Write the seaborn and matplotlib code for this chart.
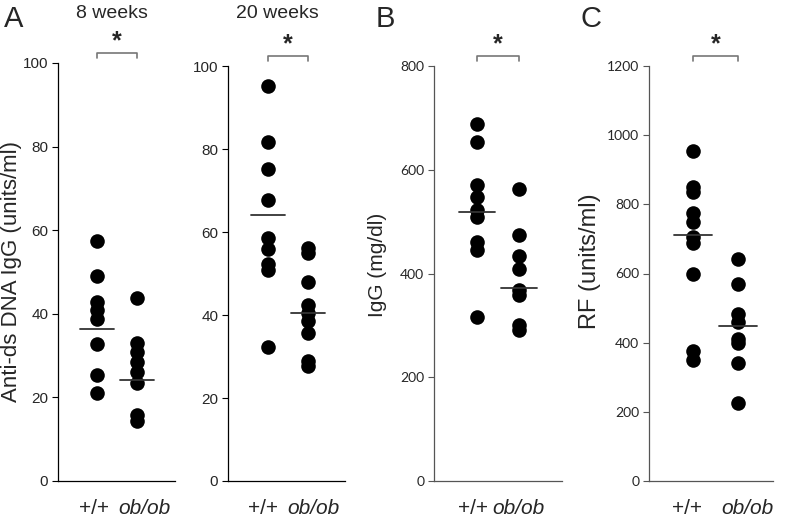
import matplotlib.pyplot as plt
import matplotlib.transforms as mtransforms
import seaborn as sns
import pandas as pd

genotypes = ['+/+', 'ob/ob']

# A: anti-dsDNA IgG (units/ml)
dna8_wt = [57.3, 49.0, 42.9, 40.9, 38.8, 32.8, 25.4, 21.0]
dna8_ob = [43.7, 33.1, 30.9, 28.5, 26.1, 23.4, 15.8, 14.4]
dna8_means = [36.3, 24.2]
dna20_wt = [95.2, 81.7, 75.1, 67.6, 58.6, 55.9, 52.4, 50.9, 32.4]
dna20_ob = [56.2, 55.0, 47.9, 42.5, 40.5, 38.5, 35.7, 28.8, 27.6]
dna20_means = [64.0, 40.6]

# B: IgG (mg/dl)
igg_wt = [688, 654, 571, 548, 522, 508, 461, 445, 317]
igg_ob = [562, 474, 434, 408, 368, 359, 301, 291]
igg_means = [518, 373]

# C: RF (units/ml)
rf_wt = [954, 849, 836, 775, 750, 706, 687, 600, 376, 350]
rf_ob = [643, 571, 484, 460, 412, 398, 340, 226]
rf_means = [711, 448]

sns.set_style('ticks')
plt.rcParams['font.family'] = ['Liberation Sans', 'DejaVu Sans']

fig = plt.figure(figsize=(7.85, 5.18), dpi=100)
W, H = 785, 518


def px_rect(left, right, top, bottom):
    return [left / W, 1 - bottom / H, (right - left) / W, (bottom - top) / H]


def draw_panel(ax, wt, ob, means, yticks, ylabel, label_size, tick_font, tick_size,
               spine_col, xlim, label_shift):
    df = pd.DataFrame({'genotype': [genotypes[0]] * len(wt) + [genotypes[1]] * len(ob),
                       'value': wt + ob})
    sns.stripplot(data=df, x='genotype', y='value', order=genotypes, jitter=False,
                  color='black', size=10.5, linewidth=0, ax=ax)
    for i, m in enumerate(means):
        ax.plot([i - 0.43, i + 0.43], [m, m], color='#333333', lw=1.3, zorder=3)
    ax.set_ylim(yticks[0], yticks[-1])
    ax.set_xlim(*xlim)
    ax.set_yticks(yticks)
    ax.set_yticklabels([str(t) for t in yticks], fontsize=tick_size, family=tick_font)
    ax.tick_params(axis='y', length=4, width=0.8, pad=3, color=spine_col)
    ax.tick_params(axis='x', length=0, pad=13)
    ax.set_xticks([0, 1])
    ax.set_xticklabels(genotypes, fontsize=15)
    labels = ax.get_xticklabels()
    labels[1].set_fontstyle('italic')
    # labels sit slightly apart from the dot columns, as in the original
    for lab, dx in zip(labels, label_shift):
        lab.set_transform(lab.get_transform() +
                          mtransforms.ScaledTranslation(dx / 100, 0, fig.dpi_scale_trans))
    ax.set_xlabel('')
    ax.set_ylabel(ylabel, fontsize=label_size)
    for s in ['top', 'right']:
        ax.spines[s].set_visible(False)
    for s in ['left', 'bottom']:
        ax.spines[s].set_color(spine_col)
        ax.spines[s].set_linewidth(0.9)
    # significance bracket
    trans = mtransforms.blended_transform_factory(ax.transData, ax.transAxes)
    ax.plot([0, 0, 1, 1], [1.012, 1.025, 1.025, 1.012], color='#777777', lw=1.2,
            transform=trans, clip_on=False)
    ax.text(0.5, 1.052, '*', transform=trans, ha='center', va='center',
            fontsize=18, fontweight='bold')


ax1 = fig.add_axes(px_rect(58, 175, 63, 481))
draw_panel(ax1, dna8_wt, dna8_ob, dna8_means, [0, 20, 40, 60, 80, 100],
           'Anti-ds DNA IgG (units/ml)', 16, 'Liberation Sans', 11, 'black',
           (-0.98, 1.95), (-3, 7))
ax1.yaxis.set_label_coords(-0.31, 0.5)

ax2 = fig.add_axes(px_rect(228, 345, 66, 481))
draw_panel(ax2, dna20_wt, dna20_ob, dna20_means, [0, 20, 40, 60, 80, 100],
           '', 15, 'Liberation Sans', 11, 'black', (-1.0, 1.92), (-5, 5))

ax3 = fig.add_axes(px_rect(434, 562, 66, 481))
draw_panel(ax3, igg_wt, igg_ob, igg_means, [0, 200, 400, 600, 800],
           'IgG (mg/dl)', 15, 'Lato', 10, '#555555', (-1.02, 2.03), (-4, 0))
ax3.yaxis.set_label_coords(-0.37, 0.52)

ax4 = fig.add_axes(px_rect(649, 773, 66, 481))
draw_panel(ax4, rf_wt, rf_ob, rf_means, [0, 200, 400, 600, 800, 1000, 1200],
           'RF (units/ml)', 17, 'Lato', 10, '#555555', (-0.98, 1.78), (-6, 9))
ax4.yaxis.set_label_coords(-0.39, 0.53)

fig.text(4 / W, 1 - 19 / H, 'A', fontsize=21, va='center', ha='left')
fig.text(376 / W, 1 - 19 / H, 'B', fontsize=21, va='center', ha='left')
fig.text(581 / W, 1 - 19 / H, 'C', fontsize=21, va='center', ha='left')
fig.text(112 / W, 1 - 13 / H, '8 weeks', fontsize=14, va='center', ha='center')
fig.text(277 / W, 1 - 13 / H, '20 weeks', fontsize=14, va='center', ha='center')

fig.savefig('out.png', dpi=100)
